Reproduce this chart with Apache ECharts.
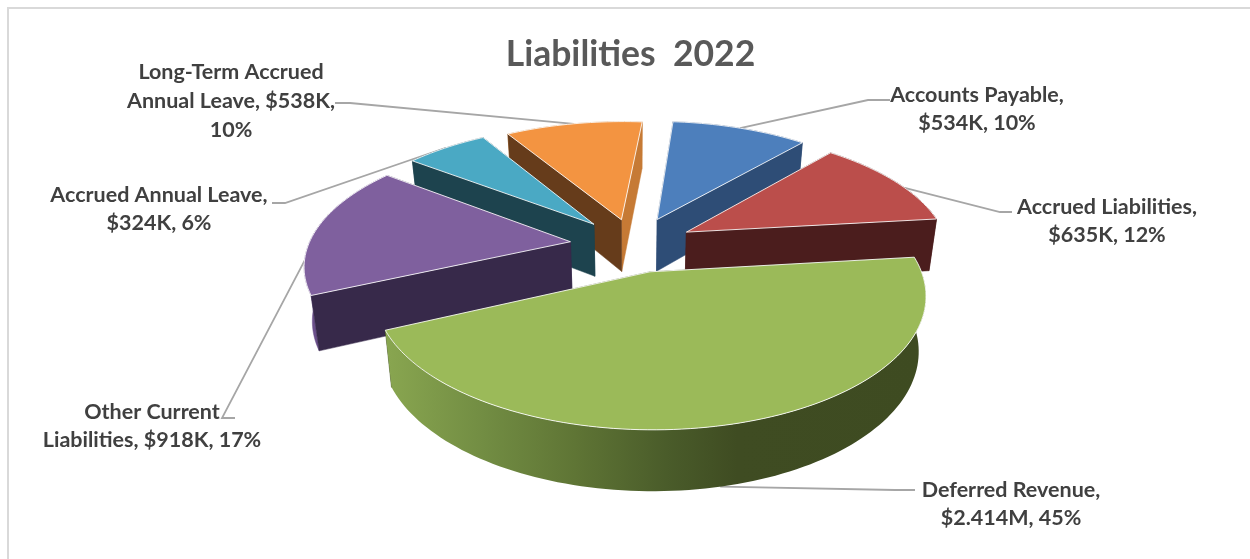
<!DOCTYPE html>
<html><head><meta charset="utf-8">
<style>html,body{margin:0;padding:0;background:#fff}#c{width:1250px;height:559px}</style>
<script src="https://cdn.jsdelivr.net/npm/echarts@6/dist/echarts.min.js"></script>
</head><body><div id="c"></div>
<script>
// ---- data ----
const categories = ["Accounts Payable","Accrued Liabilities","Deferred Revenue","Other Current Liabilities","Accrued Annual Leave","Long-Term Accrued Annual Leave"];
const valuesK = [534,635,2414,918,324,538];
const labelTexts = [
  "Accounts Payable,\n$534K, 10%",
  "Accrued Liabilities,\n$635K, 12%",
  "Deferred Revenue,\n$2.414M, 45%",
  "Other Current\nLiabilities, $918K, 17%",
  "Accrued Annual Leave,\n$324K, 6%",
  "Long-Term Accrued\nAnnual Leave, $538K,\n10%"
];
const titleText = "Liabilities  2022";

// ---- styles ----
const topColors  = ["#4d7fbc","#bb4e4b","#9bba59","#7f609e","#4aa9c4","#f39441"];
const startSide  = ["#2e4d76","#4b1d1d","#3e4b21","#37294a","#1d434e","#663c1b"];
const endSide    = ["#2e4d76","#4b1d1d","#3e4b21","#37294a","#1d434e","#c67a35"];
const outerSide  = ["#2e4d76","#4b1d1d","#3e4b21","#6a4f8a","#1d434e","#c67a35"];
const paintOrder = [2,4,6,5,3,1]; // back to front, by slice index
const explosion  = [0.235,0.23,0.22,0.245,0.235,0.22];
const labelPos   = [[977,109],[1107,221],[1011,504],[152,426],[159,209],[231,101]];
const elbows     = [[[890,100],[868,100]],[[1012,212],[1000,212]],[[915,490],[895,490]],[[235,418],[222,418]],[[272,203],[285,203]],[[335,103],[350,103]]];
const leaderFrac = [0.5,0.6,0.52,0.62,0.5,0.5];
const leaderOnBase = [0,0,1,0,0,0];

// ---- projection ----
const CX=634, CY=245, R=262, K=122, P=0.165, H=53, START=5;
function project(x,y,z){
  const w=1-P*y;
  const shrink=1-0.025*z;
  return [CX+R*x/w*shrink, CY+K*y/w+z*H/Math.pow(w,0.66)];
}
const rad=d=>d*Math.PI/180;
const total=valuesK.reduce((a,b)=>a+b,0);
function sliceAngles(i){
  let s=START;
  for(let k=0;k<i;k++) s+=valuesK[k]/total*360;
  return [s,s+valuesK[i]/total*360];
}
function rimPoint(a,off,z){ return project(Math.sin(rad(a))+off[0],-Math.cos(rad(a))+off[1],z); }

const greenGrad=()=>new echarts.graphic.LinearGradient(0,0,1,0,[
  {offset:0,color:"#89a650"},{offset:0.18,color:"#728d43"},{offset:0.35,color:"#5f7535"},
  {offset:0.52,color:"#4a5c2a"},{offset:0.65,color:"#3f4c22"},{offset:1,color:"#3e4b21"}]);

function renderSlice(params,api){
  const i=params.dataIndex, z2b=paintOrder[i]*10;
  const [a0,a1]=sliceAngles(i);
  const mid=(a0+a1)/2;
  const off=[explosion[i]*Math.sin(rad(mid)),-explosion[i]*Math.cos(rad(mid))];
  const apexT=project(off[0],off[1],0), apexB=project(off[0],off[1],1);
  const arcT=[],arcB=[];
  for(let a=a0;;a+=1.5){
    const t=Math.min(a,a1);
    arcT.push(rimPoint(t,off,0)); arcB.push(rimPoint(t,off,1));
    if(a>=a1)break;
  }
  const wall=(pts,fill,z)=>({type:'polygon',silent:true,z2:z,shape:{points:pts},style:{fill:fill,stroke:typeof fill==='string'?fill:null,lineWidth:0.5}});
  const last=arcT.length-1;
  const startWall=[apexT,arcT[0],arcB[0],apexB], endWall=[apexT,arcT[last],arcB[last],apexB];
  const startInFront=mid>180;
  const outerInFront=mid>90&&mid<270;
  const children=[
    wall(arcT.concat(arcB.slice().reverse()), i===2?greenGrad():outerSide[i], outerInFront?z2b+3:z2b),
    wall(startInFront?endWall:startWall, startInFront?endSide[i]:startSide[i], z2b+1),
    wall(startInFront?startWall:endWall, startInFront?startSide[i]:endSide[i], z2b+2),
    {type:'polygon',silent:true,z2:z2b+4,shape:{points:[apexT].concat(arcT)},
     style:{fill:topColors[i],stroke:'rgba(255,255,255,0.85)',lineWidth:1,lineJoin:'round'}}
  ];
  const la=a0+(a1-a0)*leaderFrac[i];
  const start=rimPoint(la,off,leaderOnBase[i]);
  children.unshift({type:'polyline',silent:true,z2:1,shape:{points:[elbows[i][0],elbows[i][1],start]},
    style:{stroke:'#a6a6a6',lineWidth:1.8,fill:null}});
  children.push({type:'text',silent:true,z2:200,style:{text:labelTexts[i],x:labelPos[i][0],y:labelPos[i][1],
    align:'center',verticalAlign:'middle',fill:'#404040',font:'bold 21.5px Lato, "Open Sans", sans-serif',lineHeight:28.7}});
  return {type:'group',children};
}

const chart=echarts.init(document.getElementById('c'),null,{renderer:'canvas'});
chart.setOption({
  animation:false,
  backgroundColor:'#fff',
  title:{text:titleText,left:625.5,top:32,textAlign:'center',
    textStyle:{color:'#595959',fontSize:35.5,fontWeight:'bold',fontFamily:'Lato, "Open Sans", sans-serif'}},
  graphic:[{type:'polyline',silent:true,shape:{points:[[8,559],[8,8],[1250,8]]},style:{fill:null,stroke:'#d9d9d9',lineWidth:2}}],
  series:[{type:'custom',coordinateSystem:'none',renderItem:renderSlice,
    data:valuesK.map((v,i)=>({name:categories[i],value:[v]}))}]
});
</script></body></html>
